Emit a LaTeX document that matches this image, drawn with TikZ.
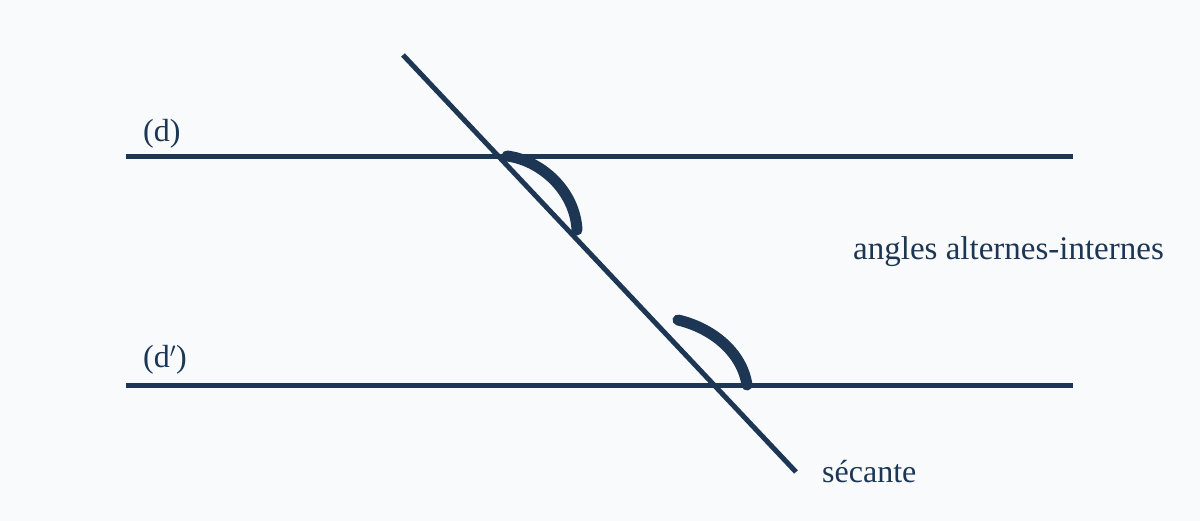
\documentclass[tikz,border=0pt]{standalone}
\usepackage{fontspec}
\setmainfont{Liberation Serif}
\definecolor{ink}{RGB}{28,54,84}
\definecolor{bg}{RGB}{248,250,252}
\begin{document}
\begin{tikzpicture}[x=1pt,y=-1pt,
  ln/.style={draw=ink,line width=5pt},
  angarc/.style={draw=ink,line width=11pt,line cap=round},
  lbl/.style={text=ink,inner sep=0pt,anchor=base west,font=\fontsize{32}{38}\selectfont}]
\fill[bg] (0,0) rectangle (1200,521);
\useasboundingbox (0,0) rectangle (1200,521);
\coordinate (dA) at (126,157);
\coordinate (dB) at (1073,157);
\coordinate (eA) at (126,386);
\coordinate (eB) at (1073,386);
\coordinate (sA) at (403,55);
\coordinate (sB) at (796,472);
\draw[ln] (dA) -- (dB);
\draw[ln] (eA) -- (eB);
\draw[ln] (sA) -- (sB);
\draw[angarc] (507,156) .. controls (540,160) and (575,190) .. (577,230);
\draw[angarc] (678,320) .. controls (712,328) and (742,352) .. (747,385);
\node[lbl] (ld) at (143,142) {(d)};
\node[lbl] (le) at (143,367) {(d$'$)};
\node[lbl,font=\fontsize{33}{40}\selectfont] (la) at (853,260) {angles alternes-internes};
\node[lbl] (ls) at (822,482) {sécante};
\end{tikzpicture}
\end{document}
